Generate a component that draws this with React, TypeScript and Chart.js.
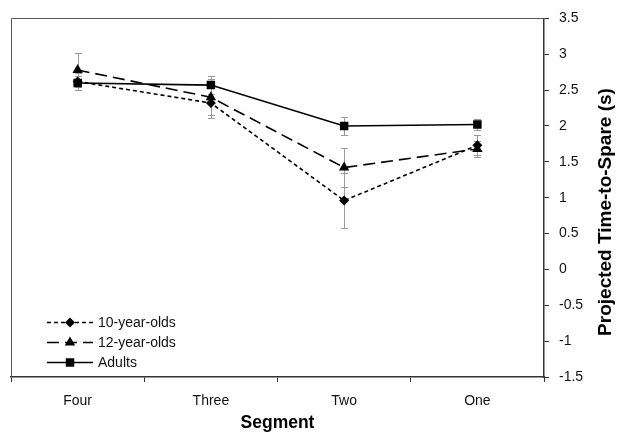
import { useEffect, useRef } from 'react';
import { Chart, registerables } from 'chart.js';

Chart.register(...registerables);

const segments = ['Four', 'Three', 'Two', 'One'];
const tenYearOlds = [2.62, 2.32, 0.96, 1.73];
const tenYearOldsErr = [0.12, 0.21, 0.38, 0.14];
const twelveYearOlds = [2.78, 2.4, 1.42, 1.68];
const twelveYearOldsErr = [0.24, 0.25, 0.27, 0.11];
const adults = [2.6, 2.57, 2.0, 2.02];
const adultsErr = [0.1, 0.12, 0.13, 0.08];
const yMin = -1.5;
const yMax = 3.5;
const yStep = 0.5;
const seriesNames = ['10-year-olds', '12-year-olds', 'Adults'];
const xTitle = 'Segment';
const yTitle = 'Projected Time-to-Spare (s)';

const FONT = "'Liberation Sans', Arial, sans-serif";
const errors = [tenYearOldsErr, twelveYearOldsErr, adultsErr];

function drawMarker(ctx: CanvasRenderingContext2D, style: string, x: number, y: number, r: number) {
  ctx.beginPath();
  if (style === 'rectRot') {
    ctx.moveTo(x, y - r);
    ctx.lineTo(x + r, y);
    ctx.lineTo(x, y + r);
    ctx.lineTo(x - r, y);
  } else if (style === 'triangle') {
    const h = r * 1.5;
    const w = r * Math.sin(Math.PI / 3);
    ctx.moveTo(x, y - r);
    ctx.lineTo(x + w, y - r + h);
    ctx.lineTo(x - w, y - r + h);
  } else {
    const s = r * Math.SQRT1_2;
    ctx.rect(x - s, y - s, 2 * s, 2 * s);
  }
  ctx.closePath();
  ctx.fill();
}

const errorBarPlugin = {
  id: 'errorBars',
  beforeDatasetsDraw(chart: any) {
    const ctx = chart.ctx;
    const yScale = chart.scales.y;
    ctx.save();
    ctx.strokeStyle = '#999999';
    ctx.lineWidth = 1;
    chart.data.datasets.forEach((ds: any, i: number) => {
      const meta = chart.getDatasetMeta(i);
      meta.data.forEach((pt: any, j: number) => {
        const v = ds.data[j];
        const e = errors[i][j];
        const x = Math.round(pt.x) + 0.5;
        const yt = Math.round(yScale.getPixelForValue(v + e)) + 0.5;
        const yb = Math.round(yScale.getPixelForValue(v - e)) + 0.5;
        ctx.beginPath();
        ctx.moveTo(x, yt);
        ctx.lineTo(x, yb);
        ctx.moveTo(x - 3.5, yt);
        ctx.lineTo(x + 3.5, yt);
        ctx.moveTo(x - 3.5, yb);
        ctx.lineTo(x + 3.5, yb);
        ctx.stroke();
      });
    });
    ctx.restore();
  },
};

const decorPlugin = {
  id: 'decor',
  afterDraw(chart: any) {
    const ctx = chart.ctx;
    const a = chart.chartArea;
    ctx.save();
    // frame top & left
    ctx.strokeStyle = '#555555';
    ctx.lineWidth = 1;
    ctx.beginPath();
    const l = Math.round(a.left) + 0.5;
    const t = Math.round(a.top) + 0.5;
    ctx.moveTo(l, Math.round(a.bottom));
    ctx.lineTo(l, t);
    ctx.lineTo(Math.round(a.right), t);
    ctx.stroke();

    // legend
    const styles = ['rectRot', 'triangle', 'rect'];
    const dashes = [[4, 3], [12, 6], []];
    const radii = [5, 6, 6];
    const rowsY = [322, 342, 362];
    for (let i = 0; i < 3; i++) {
      const y = rowsY[i] + 0.5;
      ctx.strokeStyle = '#000';
      ctx.fillStyle = '#000';
      ctx.lineWidth = 1.5;
      ctx.setLineDash(dashes[i]);
      ctx.beginPath();
      ctx.moveTo(47, y);
      ctx.lineTo(93, y);
      ctx.stroke();
      ctx.setLineDash([]);
      drawMarker(ctx, styles[i], 70, y, radii[i]);
      ctx.font = `14px ${FONT}`;
      ctx.textAlign = 'left';
      ctx.textBaseline = 'middle';
      ctx.fillStyle = '#111';
      ctx.fillText(seriesNames[i], 98, y + 1);
    }

    // titles
    ctx.fillStyle = '#000';
    ctx.font = `bold 17.5px ${FONT}`;
    ctx.textAlign = 'center';
    ctx.textBaseline = 'middle';
    ctx.fillText(xTitle, (a.left + a.right) / 2, 423);

    ctx.translate(606, 212);
    ctx.rotate(-Math.PI / 2);
    ctx.font = `bold 19px ${FONT}`;
    ctx.fillText(yTitle, 0, 0);
    ctx.restore();
  },
};

export default function App() {
  const ref = useRef<HTMLCanvasElement | null>(null);

  useEffect(() => {
    if (!ref.current) return;
    const chart = new Chart(ref.current, {
      type: 'line',
      data: {
        labels: segments,
        datasets: [
          {
            label: seriesNames[0],
            data: tenYearOlds,
            borderColor: '#000',
            backgroundColor: '#000',
            borderWidth: 1.6,
            borderDash: [4, 3],
            pointStyle: 'rectRot',
            pointRadius: 5,
            pointBorderWidth: 0,
            fill: false,
            tension: 0,
          },
          {
            label: seriesNames[1],
            data: twelveYearOlds,
            borderColor: '#000',
            backgroundColor: '#000',
            borderWidth: 1.6,
            borderDash: [12, 6],
            pointStyle: 'triangle',
            pointRadius: 6,
            pointBorderWidth: 0,
            fill: false,
            tension: 0,
          },
          {
            label: seriesNames[2],
            data: adults,
            borderColor: '#000',
            backgroundColor: '#000',
            borderWidth: 1.6,
            pointStyle: 'rect',
            pointRadius: 6,
            pointBorderWidth: 0,
            fill: false,
            tension: 0,
          },
        ],
      },
      options: {
        responsive: false,
        animation: false,
        devicePixelRatio: 1,
        layout: { padding: { left: 11, top: 15, right: 0, bottom: 0 } },
        plugins: {
          legend: { display: false },
          tooltip: { enabled: false },
          title: { display: false },
        },
        scales: {
          x: {
            type: 'category',
            offset: true,
            grid: {
              offset: true,
              drawOnChartArea: false,
              drawTicks: true,
              tickLength: 5,
              tickColor: '#333',
              tickWidth: 1,
            },
            border: { display: true, color: '#333', width: 1.5 },
            ticks: {
              color: '#111',
              font: { family: FONT, size: 14 },
              padding: 11,
              maxRotation: 0,
            },
            afterFit(scale: any) {
              scale.height = 64;
            },
          },
          y: {
            type: 'linear',
            position: 'right',
            min: yMin,
            max: yMax,
            grid: {
              drawOnChartArea: false,
              drawTicks: true,
              tickLength: 5,
              tickColor: '#333',
              tickWidth: 1,
            },
            border: { display: true, color: '#333', width: 1.5 },
            ticks: {
              stepSize: yStep,
              color: '#111',
              font: { family: FONT, size: 14 },
              padding: 10,
              callback: (v: any) => String(Math.round(Number(v) * 10) / 10),
            },
            afterFit(scale: any) {
              scale.width = 77;
            },
          },
        },
      },
      plugins: [errorBarPlugin, decorPlugin],
    });
    return () => chart.destroy();
  }, []);

  return (
    <div style={{ position: 'absolute', left: 0, top: 0, width: 621, height: 441, background: '#fff' }}>
      <canvas ref={ref} width={621} height={441} style={{ display: 'block' }} />
    </div>
  );
}
